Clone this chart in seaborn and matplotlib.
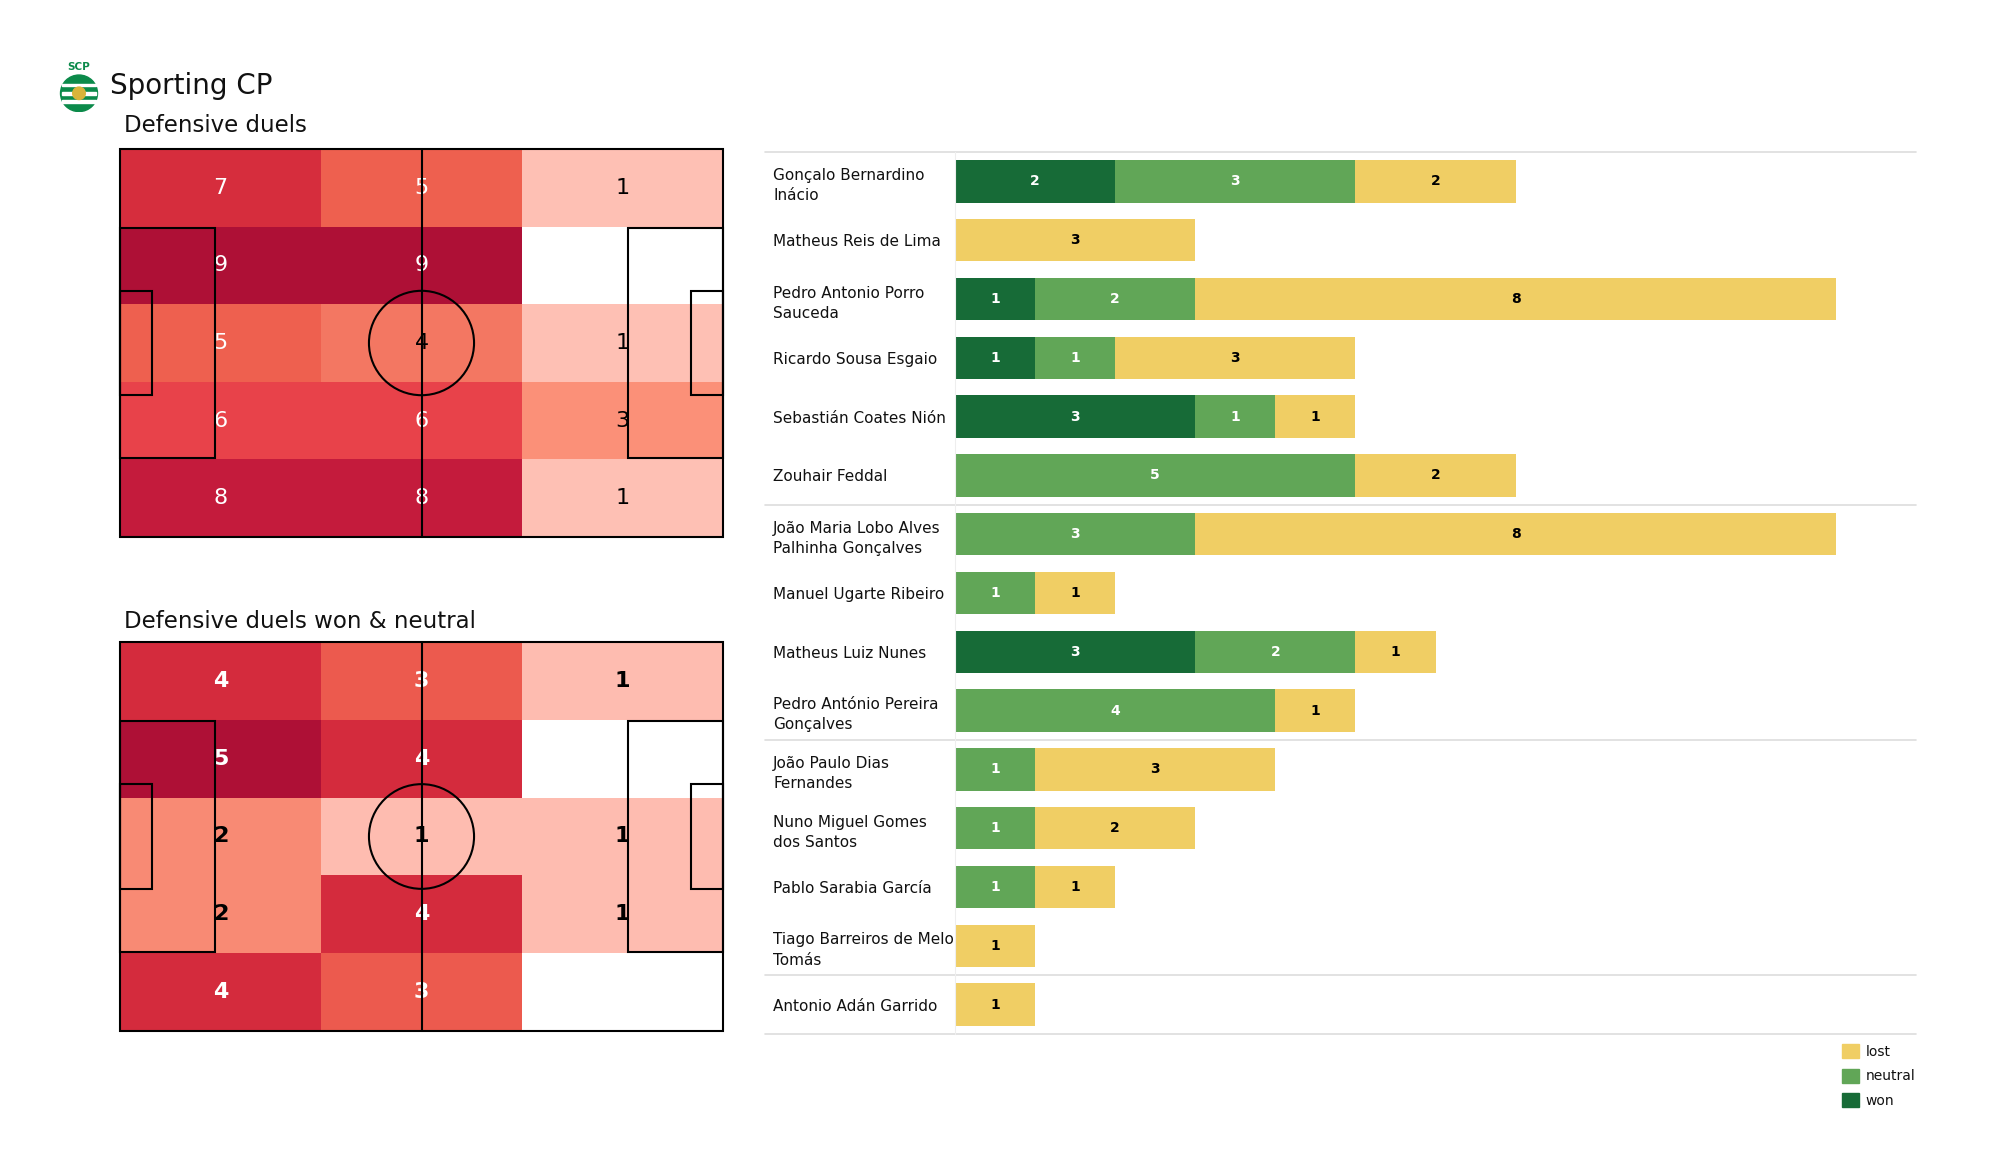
import numpy as np
import pandas as pd
import seaborn as sns
import matplotlib.pyplot as plt
from matplotlib.colors import LinearSegmentedColormap
from matplotlib.patches import Rectangle, Ellipse, Circle, Patch

# Data
team = 'Sporting CP'
zone_duels = np.array([[7, 5, 1],
                       [9, 9, 0],
                       [5, 4, 1],
                       [6, 6, 3],
                       [8, 8, 1]])
zone_won_neutral = np.array([[4, 3, 1],
                             [5, 4, 0],
                             [2, 1, 1],
                             [2, 4, 1],
                             [4, 3, 0]])

players = ['Gonçalo Bernardino\nInácio', 'Matheus Reis de Lima', 'Pedro Antonio Porro\nSauceda',
           'Ricardo Sousa Esgaio', 'Sebastián Coates Nión', 'Zouhair Feddal',
           'João Maria Lobo Alves\nPalhinha Gonçalves', 'Manuel Ugarte Ribeiro', 'Matheus Luiz Nunes',
           'Pedro António Pereira\nGonçalves', 'João Paulo Dias\nFernandes', 'Nuno Miguel Gomes\ndos Santos',
           'Pablo Sarabia García', 'Tiago Barreiros de Melo\nTomás', 'Antonio Adán Garrido']
won = [2, 0, 1, 1, 3, 0, 0, 0, 3, 0, 0, 0, 0, 0, 0]
neutral = [3, 0, 2, 1, 1, 5, 3, 1, 2, 4, 1, 1, 1, 0, 0]
lost = [2, 3, 8, 3, 1, 2, 8, 1, 1, 1, 3, 2, 1, 1, 1]
group_breaks = [6, 10, 14]  # position groups

won_color = '#176b37'
neutral_color = '#61a657'
lost_color = '#f0ce64'

heat_cmap = LinearSegmentedColormap.from_list('duels', [
    (0.0, '#ffc4b8'), (0.2, '#febcb0'), (0.33, '#fb9078'), (0.4, '#f88a74'), (0.44, '#f37862'),
    (0.56, '#ee5f4f'), (0.6, '#ec5a4e'), (0.67, '#e8414a'), (0.78, '#d62d3d'), (0.8, '#d42b3d'),
    (0.89, '#c41b3c'), (1.0, '#ae1036')])

sns.set_style('white')
plt.rcParams['font.family'] = ['DejaVu Sans']
plt.rcParams['text.color'] = '#111111'
plt.rcParams['ytick.color'] = '#111111'

W, H = 2000, 1175
fig = plt.figure(figsize=(W / 100, H / 100), dpi=100)


def px_axes(x0, y0, x1, y1):
    # axes from pixel box (top-left origin)
    return fig.add_axes([x0 / W, 1 - y1 / H, (x1 - x0) / W, (y1 - y0) / H])


def draw_pitch(ax):
    sx, sy = 3 / 105, 5 / 68
    kw = dict(fill=False, ec='black', lw=1.5, zorder=5, clip_on=False)
    ax.add_patch(Rectangle((0, 0), 105 * sx, 68 * sy, **kw))
    ax.plot([52.5 * sx, 52.5 * sx], [0, 68 * sy], color='black', lw=1.5, zorder=5, clip_on=False)
    ax.add_patch(Ellipse((52.5 * sx, 34 * sy), 2 * 9.15 * sx, 2 * 9.15 * sy, **kw))
    for x in (0, 105 - 16.5):
        ax.add_patch(Rectangle((x * sx, 13.84 * sy), 16.5 * sx, 40.32 * sy, **kw))
    for x in (0, 105 - 5.5):
        ax.add_patch(Rectangle((x * sx, 24.84 * sy), 5.5 * sx, 18.32 * sy, **kw))


def zone_heatmap(ax, data, bold):
    vmax = data.max()
    sns.heatmap(data, ax=ax, cmap=heat_cmap, vmin=0, vmax=vmax, mask=data == 0,
                annot=True, fmt='d', cbar=False, xticklabels=False, yticklabels=False,
                annot_kws={'size': 16, 'weight': 'bold' if bold else 'normal'})
    for t in ax.texts:
        t.set_color('white' if int(t.get_text()) / vmax > 0.5 else 'black')
    draw_pitch(ax)
    ax.set_xlim(0, 3)
    ax.set_ylim(5, 0)
    for s in ax.spines.values():
        s.set_visible(False)


# Header with a simple badge
logo = px_axes(58, 58, 100, 112)
logo.set_xlim(0, 1)
logo.set_ylim(0, 1.3)
logo.axis('off')
logo.add_patch(Circle((0.5, 0.45), 0.44, color='#0b8a4a'))
for yy in (0.25, 0.45, 0.65):
    logo.add_patch(Rectangle((0.1, yy - 0.035), 0.8, 0.07, color='white'))
logo.add_patch(Circle((0.5, 0.45), 0.15, color='#d9b43a'))
logo.text(0.5, 1.08, 'SCP', color='#0b8a4a', ha='center', va='center', size=7.5, weight='bold')

fig.text(110 / W, 1 - 86 / H, team, size=20, va='center')
fig.text(124 / W, 1 - 126 / H, 'Defensive duels', size=16.5, va='center')
fig.text(124 / W, 1 - 621 / H, 'Defensive duels won & neutral', size=16.5, va='center')

# Pitch heatmaps
ax1 = px_axes(120, 149, 723, 537)
zone_heatmap(ax1, zone_duels, bold=False)
ax2 = px_axes(120, 642, 723, 1031)
zone_heatmap(ax2, zone_won_neutral, bold=True)

# Stacked bars per player
df = pd.DataFrame({'player': players, 'won': won, 'neutral': neutral, 'lost': lost})
df['won_neutral'] = df['won'] + df['neutral']
df['total'] = df['won_neutral'] + df['lost']

axb = px_axes(955, 152, 1916, 1034)
for col, c in (('total', lost_color), ('won_neutral', neutral_color), ('won', won_color)):
    sns.barplot(data=df, x=col, y='player', order=players, color=c, saturation=1,
                width=0.72, errorbar=None, orient='h', linewidth=0, ax=axb)

for i, r in df.iterrows():
    segs = [(0, r['won'], 'white'), (r['won'], r['neutral'], 'white'), (r['won_neutral'], r['lost'], 'black')]
    for start, val, tc in segs:
        if val > 0:
            axb.text(start + val / 2, i, str(val), ha='center', va='center',
                     color=tc, size=10, weight='bold')

axb.set_xlim(0, 12)
axb.set_ylim(len(players) - 0.5, -0.5)
axb.set_xlabel('')
axb.set_ylabel('')
axb.set_xticks([])
axb.tick_params(axis='y', length=0, pad=131, labelsize=11)
for lab in axb.get_yticklabels():
    lab.set_horizontalalignment('left')
    lab.set_multialignment('left')
    lab.set_linespacing(1.45)
for name, s in axb.spines.items():
    s.set_visible(name == 'left')
axb.spines['left'].set_color('#eeeeee')

# Separator lines between position groups
x_left = (765 - 955) / (1916 - 955)
for yb in [-0.5] + [g - 0.5 for g in group_breaks] + [len(players) - 0.5]:
    axb.plot([x_left, 1], [yb, yb], transform=axb.get_yaxis_transform(),
             color='#dddddd', lw=1.2, clip_on=False)

handles = [Patch(color=lost_color, label='lost'),
           Patch(color=neutral_color, label='neutral'),
           Patch(color=won_color, label='won')]
fig.legend(handles=handles, loc='upper left', bbox_to_anchor=(1842 / W, 1 - 1044 / H),
           frameon=False, fontsize=10, handlelength=1.2, handleheight=1.2,
           handletextpad=0.5, labelspacing=0.7, borderpad=0, borderaxespad=0)

plt.savefig('out.png', dpi=100)
plt.close()
